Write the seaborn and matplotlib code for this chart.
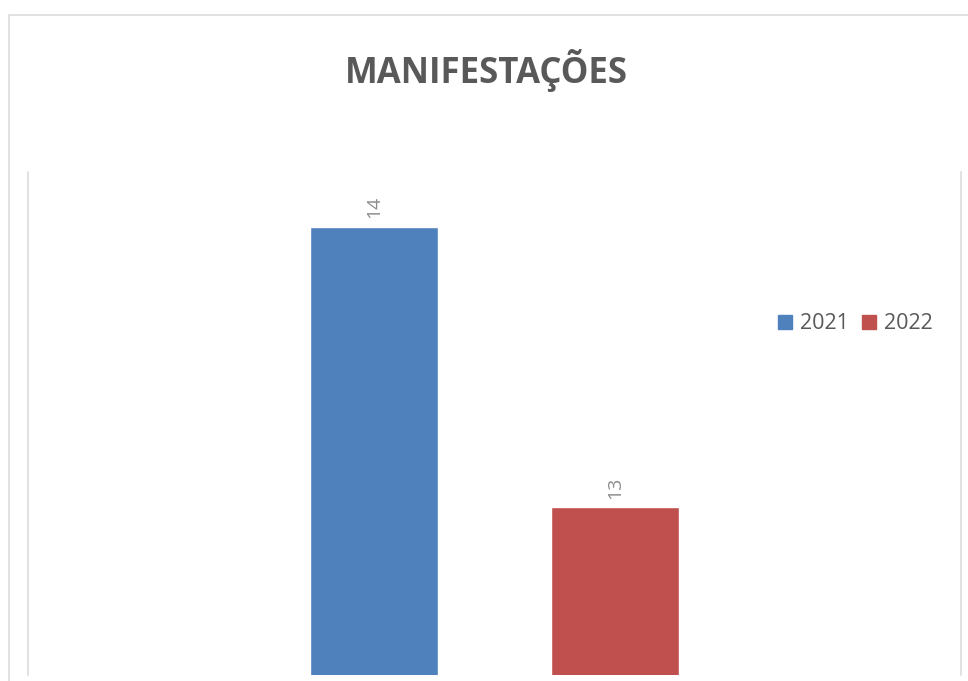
import matplotlib
matplotlib.use("Agg")
import matplotlib.pyplot as plt
import seaborn as sns
import pandas as pd
from matplotlib.lines import Line2D
from matplotlib.patches import Rectangle

# Data
anos = ["2021", "2022"]
valores = [14, 13]
cores = ["#4F81BD", "#C0504D"]
titulo = "MANIFESTAÇÕES"

df = pd.DataFrame({"ano": anos, "valor": valores})

sns.set_theme(style="white")
plt.rcParams["font.family"] = ["Open Sans", "DejaVu Sans"]

fig = plt.figure(figsize=(9.68, 6.81), dpi=100)
ax = fig.add_axes([28 / 968, 6 / 681, 933 / 968, 503 / 681])

sns.barplot(data=df, x="ano", y="valor", hue="ano", palette=cores,
            width=0.531, legend=False, ax=ax, saturation=1)

ax.set_xlim(-1.436, 2.436)
ax.set_ylim(12.4, 14.195)
ax.set_xticks([])
ax.set_yticks([])
ax.set_xlabel("")
ax.set_ylabel("")
for s in ["top", "bottom"]:
    ax.spines[s].set_visible(False)
for s in ["left", "right"]:
    ax.spines[s].set_visible(True)
    ax.spines[s].set_color("#d9d9d9")
    ax.spines[s].set_linewidth(1.1)

# data labels
for i, v in enumerate(valores):
    ax.annotate(str(v), xy=(i, v), xytext=(0, 6), textcoords="offset points",
                rotation=90, ha="center", va="bottom", fontsize=14,
                color="#8c8c8c")

# title
fig.text(486 / 968, 1 - 70 / 681, titulo, ha="center", va="center",
         fontsize=25, fontweight="bold", color="#595959")

# legend
handles = [Line2D([], [], marker="s", linestyle="none", markersize=9.5,
                  markerfacecolor=c, markeredgecolor=c) for c in cores]
leg = fig.legend(handles, anos, loc="center left",
                 bbox_to_anchor=(774 / 968, 1 - 324 / 681), ncol=2,
                 frameon=False, fontsize=15.5, handletextpad=0.2,
                 columnspacing=0.45, handlelength=1.0, borderpad=0,
                 borderaxespad=0)
for t in leg.get_texts():
    t.set_color("#595959")

# chart area border
fig.patches.append(Rectangle((8.5 / 968, -0.05), 1.2, 1 - 14.5 / 681 + 0.05,
                             transform=fig.transFigure, fill=False,
                             edgecolor="#d9d9d9", linewidth=1.1,
                             clip_on=False))

fig.savefig("out.png", dpi=100, facecolor="white")
